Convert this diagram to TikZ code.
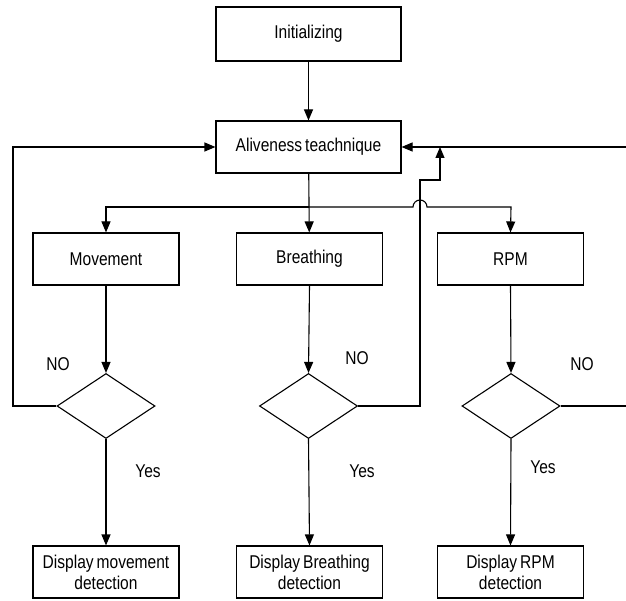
\documentclass[tikz,border=0pt]{standalone}
\usepackage{fontspec}
\setmainfont[FakeStretch=0.84,WordSpace=0.7]{Liberation Sans}
\usetikzlibrary{shapes.geometric,arrows.meta}
\begin{document}
\begin{tikzpicture}[x=1pt,y=-1pt,
  every node/.style={font=\fontsize{18.5}{21}\selectfont},
  box/.style={draw,line width=1.1pt,rectangle,minimum width=146pt,minimum height=52pt,inner sep=0pt,align=center},
  dia/.style={draw,line width=1.1pt,diamond,minimum width=98pt,minimum height=65pt,inner sep=0pt},
  ln/.style={line width=1.1pt},
  arr/.style={line width=1.1pt,-{Triangle[length=11pt,width=9pt]}},
  lbl/.style={inner sep=0pt}]
\useasboundingbox[fill=white] (0,0) rectangle (626,601);
% boxes
\node[box,minimum width=185pt,minimum height=54pt] (init) at (308.5,34) {Initializing};
\node[box,minimum width=185pt] (alive) at (308.5,147) {Aliveness teachnique};
\node[box] (move) at (106,259) {Movement};
\node[box] (breath) at (309.5,259) {Breathing};
\node[box] (rpm) at (510.5,259) {RPM};
\node[dia] (md) at (106,406) {};
\node[dia] (bd) at (308.5,406) {};
\node[dia] (rd) at (511,406) {};
\node[box] (mdisp) at (106,572) {Display movement\\detection};
\node[box] (bdisp) at (309.5,572) {Display Breathing\\detection};
\node[box] (rdisp) at (510.5,572) {Display RPM\\detection};
% coordinates
\coordinate (dj) at (308.5,207);
\coordinate (hopL) at (413,207);
\coordinate (hopR) at (427,207);
\coordinate (rj) at (511,207);
\coordinate (mj) at (106,207);
\coordinate (ml) at (13,147);
\coordinate (bj1) at (420,180);
\coordinate (bj2) at (440,147);
\coordinate (re1) at (630,406);
\coordinate (re2) at (630,147);
% connectors
\draw[arr] (init) -- (alive);
\draw[arr] (alive) -- (breath);
\draw[arr] (dj) -- (mj) -- (move.north);
\draw[arr] (dj) -- (hopL) arc(180:360:7) -- (rj) -- (rpm.north);
\draw[arr] (move) -- (md);
\draw[arr] (breath.south) -- (bd.north);
\draw[arr] (rpm.south) -- (rd.north);
\draw[arr] (md) -- (mdisp);
\draw[arr] (bd.south) -- (bdisp.north);
\draw[arr] (rd.south) -- (rdisp.north);
\draw[arr] (md.west) -| (ml) -- (alive.west);
\draw[arr] (bd.east) -| (bj1) -| (bj2);
\draw[ln] (rd.east) -- (re1);
\draw[arr] (re2) -- (alive.east);
% labels
\node[lbl] (no1) at (58,364) {NO};
\node[lbl] (no2) at (357,358) {NO};
\node[lbl] (no3) at (582,364) {NO};
\node[lbl] (y1) at (148,471) {Yes};
\node[lbl] (y2) at (362,471) {Yes};
\node[lbl] (y3) at (543,467) {Yes};
\end{tikzpicture}
\end{document}
